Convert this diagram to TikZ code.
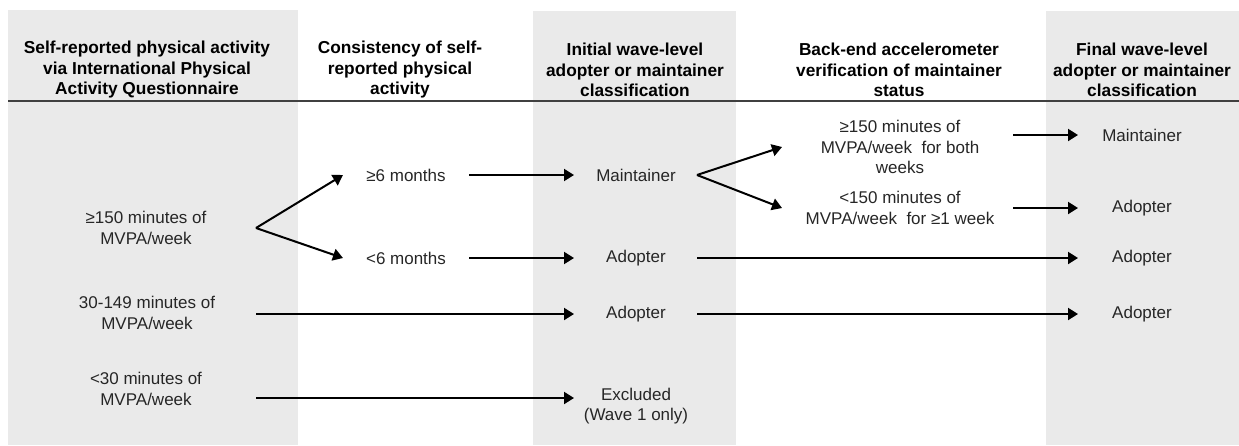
\documentclass[tikz,border=0pt]{standalone}
\usepackage{fontspec}
\setmainfont{Liberation Sans}
\usepackage{tikz}
\usetikzlibrary{arrows.meta,positioning}
\definecolor{colgray}{RGB}{234,234,234}
\definecolor{rulegray}{RGB}{64,64,64}
\tikzset{lbl/.style = {align=center, inner sep=0pt, text=black!85, font=\fontsize{17}{20.5}\selectfont}}
\tikzset{hdr/.style = {lbl, text=black, font=\fontsize{17.3}{20.5}\selectfont\bfseries}}
\tikzset{arrow/.style={line width=2pt,-{Triangle[length=10pt,width=12pt]}}}

\begin{document}
\begin{tikzpicture}[x=1pt,y=-1pt]
	\tikzstyle{column}=[fill=colgray]
	\useasboundingbox (0,0) rectangle (1239,445);
	\fill[column] (8,10) rectangle (298,445);
	\fill[column] (533,11) rectangle (736,445);
	\fill[column] (1046,11) rectangle (1239,445);
	\draw[rulegray,line width=1.3pt] (8,101) -- (1239,101);

	\node[hdr] (hd1) at (147,70) {Self-reported physical activity\\via International Physical\\Activity Questionnaire};
	\node[hdr] (hd2) at (400,70) {Consistency of self-\\reported physical\\activity};
	\node[hdr] (hd3) at (635,70) {Initial wave-level\\adopter or maintainer\\classification};
	\node[hdr] (hd4) at (899,70) {Back-end accelerometer\\verification of maintainer\\status};
	\node[hdr] (hd5) at (1142,70) {Final wave-level\\adopter or maintainer\\classification};

	\node[lbl] (pa150) at (146,228) {≥150 minutes of\\MVPA/week};
	\node[lbl] (pa30) at (147,313) {30-149 minutes of\\MVPA/week};
	\node[lbl] (pa0) at (146,389) {<30 minutes of\\MVPA/week};
	\node[lbl] (six) at (406,175) {≥6 months};
	\node[lbl] (lsix) at (406,258) {<6 months};
	\node[lbl] (imaint) at (636,175) {Maintainer};
	\node[lbl] (iadopt1) at (636,258) {Adopter};
	\node[lbl] (iadopt2) at (636,314) {Adopter};
	\node[lbl] (iexcl) at (636,406) {Excluded\\(Wave 1 only)};
	\node[lbl] (vboth) at (900,147) {≥150 minutes of\\MVPA/week\ \ for both\\weeks};
	\node[lbl] (vone) at (900,208) {<150 minutes of\\MVPA/week\ \ for ≥1 week};
	\node[lbl] (fmaint) at (1142,135) {Maintainer};
	\node[lbl] (fadopt1) at (1142,208) {Adopter};
	\node[lbl] (fadopt2) at (1142,258) {Adopter};
	\node[lbl] (fadopt3) at (1142,314) {Adopter};

	\coordinate (c1out) at (256,0);
	\coordinate (c2in) at (343,0);
	\coordinate (c2out) at (469,0);
	\coordinate (c3in) at (574,0);
	\coordinate (c3out) at (697,0);
	\coordinate (c4in) at (782,0);
	\coordinate (c4out) at (1013,0);
	\coordinate (c5in) at (1078,0);
	\coordinate (exclrow) at (0,398);

	\draw[arrow] (c1out |- pa150) -- (c2in |- six);
	\draw[arrow] (c1out |- pa150) -- (c2in |- lsix);
	\draw[arrow] (c2out |- six) -- (c3in |- imaint);
	\draw[arrow] (c2out |- lsix) -- (c3in |- iadopt1);
	\draw[arrow] (c1out |- iadopt2) -- (c3in |- iadopt2);
	\draw[arrow] (c1out |- exclrow) -- (c3in |- exclrow);
	\draw[arrow] (c3out |- imaint) -- (c4in |- vboth);
	\draw[arrow] (c3out |- imaint) -- (c4in |- fadopt1);
	\draw[arrow] (c4out |- fmaint) -- (c5in |- fmaint);
	\draw[arrow] (c4out |- fadopt1) -- (c5in |- fadopt1);
	\draw[arrow] (c3out |- iadopt1) -- (c5in |- fadopt2);
	\draw[arrow] (c3out |- iadopt2) -- (c5in |- fadopt3);
\end{tikzpicture}
\end{document}
